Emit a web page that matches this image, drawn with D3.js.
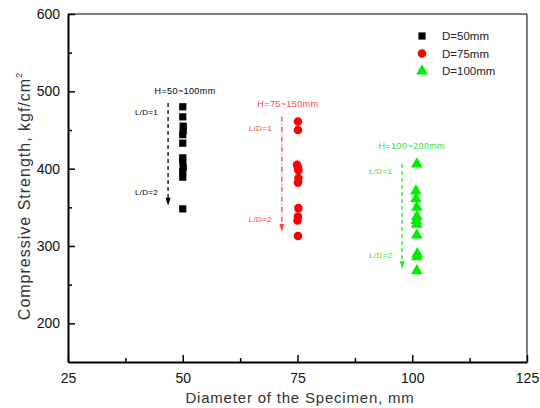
<!DOCTYPE html>
<html>
<head>
<meta charset="utf-8">
<script src="https://cdn.jsdelivr.net/npm/d3@7/dist/d3.min.js"></script>
<style>
  html, body { margin: 0; padding: 0; background: #fff; }
  svg { display: block; font-family: "Liberation Sans", Arial, sans-serif; }
</style>
</head>
<body>
<svg id="chart" width="540" height="408"></svg>
<script>
// Compressive strength of cylinder specimens by diameter
const series = ["D=50mm", "D=75mm", "D=100mm"];
const seriesColors = ["#000000", "#ff0000", "#00ee00"];
const annotColors = ["#000000", "#ff4444", "#33e033"];

const d50x = [50, 50, 50.1, 50.1, 50, 50, 50, 50, 50.1, 50, 50, 50];
const d50y = [480, 467, 455, 449, 444, 433, 414, 410, 402, 396, 389, 348];

const d75x = [75.1, 75.1, 74.9, 75.1, 75.2, 75.2, 75.1, 75.2, 75.1, 75, 75.1];
const d75y = [461, 450, 405, 401, 398, 388, 382, 349, 338, 333, 313];

const d100x = [101, 100.8, 100.8, 101, 101, 100.9, 101, 101, 101.1, 101, 101];
const d100y = [406, 371, 361, 350, 338, 333, 328, 314, 290, 286, 268];

const xTicks = [25, 50, 75, 100, 125];
const yTicks = [200, 300, 400, 500, 600];

// Height-range annotations: arrow x, arrow start/end strength, labels
const heightLabels = ["H=50~100mm", "H=75~150mm", "H=100~200mm"];
const headX = [50.5, 72.9, 99.9];
const headY = [496, 480, 426];
const arrowX = [46.8, 71.6, 97.8];
const arrowFrom = [485, 467, 406];
const arrowTo = [352, 318, 270];
const ld1Y = [469, 449, 393];
const ld2Y = [366, 331, 285];

const svg = d3.select("#chart");
const margin = { left: 68, right: 13, top: 14, bottom: 46 };
const W = 540, H = 408;
const x = d3.scaleLinear().domain([25, 125]).range([margin.left, W - margin.right]);
const y = d3.scaleLinear().domain([150, 600]).range([H - margin.bottom, margin.top]);

// frame: thin top/right, heavier left/bottom
svg.append("line").attr("x1", x(25)).attr("x2", x(125)).attr("y1", y(600)).attr("y2", y(600))
  .attr("stroke", "#000").attr("stroke-width", 1);
svg.append("line").attr("x1", x(125)).attr("x2", x(125)).attr("y1", y(600)).attr("y2", y(150))
  .attr("stroke", "#000").attr("stroke-width", 1);

// bottom axis with inward ticks
const xAxis = svg.append("g").attr("transform", `translate(0,${y(150)})`)
  .call(d3.axisBottom(x).tickValues(xTicks).tickSize(-7).tickPadding(11).tickSizeOuter(0));
xAxis.select(".domain").attr("stroke-width", 2);
xAxis.selectAll(".tick line").attr("stroke-width", 1.5);
xAxis.selectAll("text").attr("font-size", 14).attr("font-family", "Liberation Sans, Arial, sans-serif").attr("fill", "#111");
svg.append("g").attr("transform", `translate(0,${y(150)})`)
  .call(d3.axisBottom(x).tickValues([37.5, 62.5, 87.5, 112.5]).tickSize(-4).tickFormat(""))
  .call(g => g.select(".domain").remove())
  .selectAll(".tick line").attr("stroke-width", 1.5);

// left axis with inward ticks
const yAxis = svg.append("g").attr("transform", `translate(${x(25)},0)`)
  .call(d3.axisLeft(y).tickValues(yTicks).tickSize(-7).tickPadding(8).tickSizeOuter(0));
yAxis.select(".domain").attr("stroke-width", 2);
yAxis.selectAll(".tick line").attr("stroke-width", 1.5);
yAxis.selectAll("text").attr("font-size", 14).attr("font-family", "Liberation Sans, Arial, sans-serif").attr("fill", "#111");
svg.append("g").attr("transform", `translate(${x(25)},0)`)
  .call(d3.axisLeft(y).tickValues([250, 350, 450, 550]).tickSize(-4).tickFormat(""))
  .call(g => g.select(".domain").remove())
  .selectAll(".tick line").attr("stroke-width", 1.5);

// axis titles
svg.append("text").attr("x", 300).attr("y", 403)
  .attr("text-anchor", "middle").attr("font-size", 15).attr("letter-spacing", 0.8).attr("fill", "#333")
  .text("Diameter of the Specimen, mm");
const yt = svg.append("text")
  .attr("transform", `translate(30,196) rotate(-90)`)
  .attr("text-anchor", "middle").attr("font-size", 16).attr("letter-spacing", 1).attr("fill", "#333");
yt.append("tspan").text("Compressive Strength, kgf/cm");
yt.append("tspan").attr("font-size", 9).attr("dy", -8).text("2");

// annotations
const sym = d3.symbol();
for (let i = 0; i < 3; i++) {
  const c = annotColors[i];
  const ax = x(arrowX[i]);
  svg.append("line").attr("x1", ax).attr("x2", ax)
    .attr("y1", y(arrowFrom[i])).attr("y2", y(arrowTo[i]) - 6)
    .attr("stroke", c).attr("stroke-width", 1.3)
    .attr("stroke-dasharray", i === 1 ? "5,2,1,2" : "4,3");
  svg.append("path")
    .attr("d", `M${ax - 2.5},${y(arrowTo[i]) - 8} L${ax + 2.5},${y(arrowTo[i]) - 8} L${ax},${y(arrowTo[i])} Z`)
    .attr("fill", c);
  svg.append("text").attr("x", x(headX[i])).attr("y", y(headY[i]))
    .attr("text-anchor", "middle").attr("font-size", 9).attr("letter-spacing", 0.4).attr("fill", c)
    .text(heightLabels[i]);
  svg.append("text").attr("x", ax - 10).attr("y", y(ld1Y[i]))
    .attr("text-anchor", "end").attr("font-size", 8).attr("letter-spacing", 0.3).attr("fill", c).text("L/D=1");
  svg.append("text").attr("x", ax - 10).attr("y", y(ld2Y[i]))
    .attr("text-anchor", "end").attr("font-size", 8).attr("letter-spacing", 0.3).attr("fill", c).text("L/D=2");
}

// data markers
const shapes = [d3.symbolSquare, d3.symbolCircle, d3.symbolTriangle];
const sizes = [52, 58, 60];
const xs = [d50x, d75x, d100x];
const ys = [d50y, d75y, d100y];
for (let i = 0; i < 3; i++) {
  svg.append("g").selectAll("path").data(d3.range(xs[i].length)).join("path")
    .attr("transform", j => `translate(${x(xs[i][j])},${y(ys[i][j])})`)
    .attr("d", sym.type(shapes[i]).size(sizes[i])())
    .attr("fill", seriesColors[i]);
}

// legend
const lg = svg.append("g");
series.forEach((s, i) => {
  const ly = 36 + i * 17.5;
  lg.append("path").attr("transform", `translate(422,${ly})`)
    .attr("d", sym.type(shapes[i]).size(sizes[i])()).attr("fill", seriesColors[i]);
  lg.append("text").attr("x", 442).attr("y", ly + 4).attr("font-size", 11.5).attr("fill", "#222").text(s);
});
</script>
</body>
</html>
